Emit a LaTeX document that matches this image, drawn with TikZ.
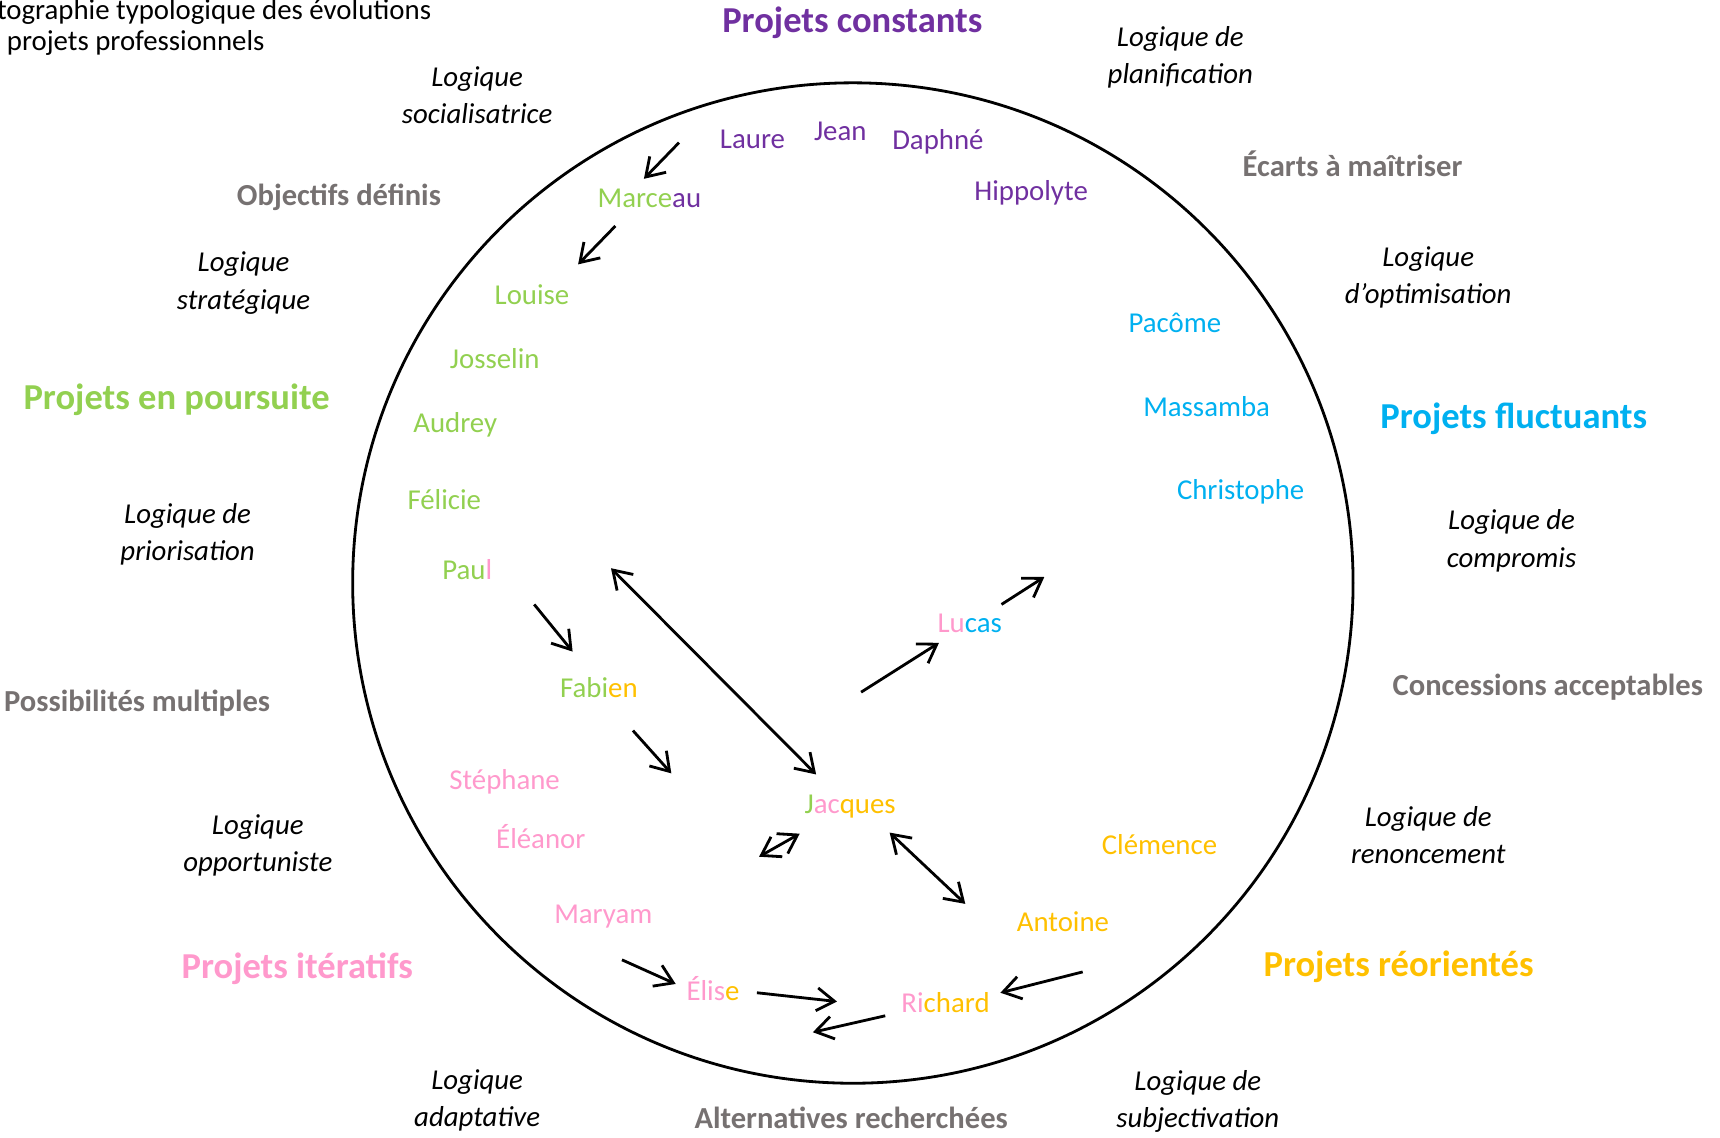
\documentclass[tikz,border=0pt]{standalone}
\usepackage{fontspec}
\setmainfont{Carlito}
\usetikzlibrary{arrows.meta}

\definecolor{cPurple}{HTML}{7030A0}
\definecolor{cGreen}{HTML}{92D050}
\definecolor{cCyan}{HTML}{00B0F0}
\definecolor{cPink}{HTML}{FF99CC}
\definecolor{cOrange}{HTML}{FFC000}
\definecolor{cGray}{HTML}{767171}

\begin{document}
\begin{tikzpicture}[x=0.01097cm, y=-0.01097cm, >={Straight Barb[length=5pt,width=6.5pt]}, line width=0.8pt]
\tikzstyle{person}=[font=\fontsize{8.2}{10}\selectfont, inner sep=0pt]
\tikzstyle{projtype}=[font=\fontsize{10.4}{12}\selectfont\bfseries, inner sep=0pt]
\tikzstyle{stake}=[font=\fontsize{8.7}{10}\selectfont\bfseries, text=cGray, inner sep=0pt]
\tikzstyle{logic}=[font=\fontsize{8.2}{10.6}\selectfont\itshape, align=center, inner sep=0pt]
\useasboundingbox (0,0) rectangle (1568,1037);

\draw (777.5,531.5) circle (456);

% title, cut by the page edge
\node[person, anchor=west] (title1) at (-4,11)  {tographie typologique des évolutions};
\node[person, anchor=west] (title2) at (5,39)  {projets professionnels};

% types of projects
\node[projtype, text=cPurple] (constants)  at (777,21)   {Projets constants};
\node[projtype, text=cGreen]  (poursuite)  at (161,364)  {Projets en poursuite};
\node[projtype, text=cCyan]   (fluctuants) at (1380,382) {Projets fluctuants};
\node[projtype, text=cPink]   (iteratifs)  at (271,883)  {Projets itératifs};
\node[projtype, text=cOrange] (reorientes) at (1275,881) {Projets réorientés};

% stakes
\node[stake] (ecarts)       at (1233,149) {Écarts à maîtriser};
\node[stake] (objectifs)    at (309,180)  {Objectifs définis};
\node[stake] (possibilites) at (125,641)  {Possibilités multiples};
\node[stake] (concessions)  at (1411,626) {Concessions acceptables};
\node[stake] (alternatives) at (776,1019) {Alternatives recherchées};

% logics
\node[logic] (planif)   at (1076,52)  {Logique de\\planification};
\node[logic] (social)   at (435,87)   {Logique\\socialisatrice};
\node[logic] (strat)    at (222,258)  {Logique\\stratégique};
\node[logic] (optim)    at (1302,253) {Logique\\d’optimisation};
\node[logic] (prior)    at (171,487)  {Logique de\\priorisation};
\node[logic] (compro)   at (1378,493) {Logique de\\compromis};
\node[logic] (opport)   at (235,771)  {Logique\\opportuniste};
\node[logic] (renonc)   at (1302,761) {Logique de\\renoncement};
\node[logic] (adapt)    at (435,1003) {Logique\\adaptative};
\node[logic] (subject)  at (1092,1004){Logique de\\subjectivation};

% people
\node[person, text=cPurple] (laure)      at (686,127)  {Laure};
\node[person, text=cPurple] (jean)       at (766,120)  {Jean};
\node[person, text=cPurple] (daphne)     at (855,129)  {Daphné};
\node[person, text=cPurple] (hippolyte)  at (940,176)  {Hippolyte};
\node[person] (marceau)    at (592,181)  {\textcolor{cGreen}{Marce}\textcolor{cPurple}{au}};
\node[person, text=cGreen]  (louise)     at (485,269)  {Louise};
\node[person, text=cGreen]  (josselin)   at (451,327)  {Josselin};
\node[person, text=cGreen]  (audrey)     at (415,387)  {Audrey};
\node[person, text=cGreen]  (felicie)    at (405,455)  {Félicie};
\node[person] (paul)       at (426,519)  {\textcolor{cGreen}{Pau}\textcolor{cPink}{l}};
\node[person] (fabien)     at (546,627)  {\textcolor{cGreen}{Fabi}\textcolor{cOrange}{en}};
\node[person, text=cPink]   (stephane)   at (460,713)  {Stéphane};
\node[person, text=cPink]   (eleanor)    at (493,763)  {Éléanor};
\node[person, text=cPink]   (maryam)     at (550,836)  {Maryam};
\node[person] (elise)      at (650,901)  {\textcolor{cPink}{Élis}\textcolor{cOrange}{e}};
\node[person] (richard)    at (862,914)  {\textcolor{cPink}{Ri}\textcolor{cOrange}{chard}};
\node[person, text=cOrange] (antoine)    at (969,840)  {Antoine};
\node[person, text=cOrange] (clemence)   at (1057,770) {Clémence};
\node[person] (jacques)    at (775,735)  {\textcolor{cGreen}{J}\textcolor{cPink}{ac}\textcolor{cOrange}{ques}};
\node[person] (lucas)      at (884,568)  {\textcolor{cPink}{Lu}\textcolor{cCyan}{cas}};
\node[person, text=cCyan]   (pacome)     at (1071,294) {Pacôme};
\node[person, text=cCyan]   (massamba)   at (1100,371) {Massamba};
\node[person, text=cCyan]   (christophe) at (1131,448) {Christophe};

% ends of the moves
\coordinate (a1) at (619,130);  \coordinate (b1) at (587,163);
\coordinate (a2) at (561,206);  \coordinate (b2) at (527,241);
\coordinate (a3) at (487,551);  \coordinate (b3) at (522,594);
\coordinate (a4) at (577,666);  \coordinate (b4) at (612,705);
\coordinate (a5) at (557,518);  \coordinate (b5) at (744,706);
\coordinate (a6) at (785,631);  \coordinate (b6) at (856,586);
\coordinate (a7) at (913,551);  \coordinate (b7) at (952,526);
\coordinate (a8) at (692,781);  \coordinate (b8) at (729,760);
\coordinate (a9) at (811,759);  \coordinate (b9) at (880,824);
\coordinate (a10) at (567,875); \coordinate (b10) at (616,897);
\coordinate (a11) at (690,905); \coordinate (b11) at (763,913);
\coordinate (a12) at (987,886); \coordinate (b12) at (912,905);
\coordinate (a13) at (807,926); \coordinate (b13) at (741,941);

\path
(a1) edge[->]  (b1)
(a2) edge[->]  (b2)
(a3) edge[->]  (b3)
(a4) edge[->]  (b4)
(a5) edge[<->] (b5)
(a6) edge[->]  (b6)
(a7) edge[->]  (b7)
(a8) edge[<->] (b8)
(a9) edge[<->] (b9)
(a10) edge[->] (b10)
(a11) edge[->] (b11)
(a12) edge[->] (b12)
(a13) edge[->] (b13);
\end{tikzpicture}
\end{document}
